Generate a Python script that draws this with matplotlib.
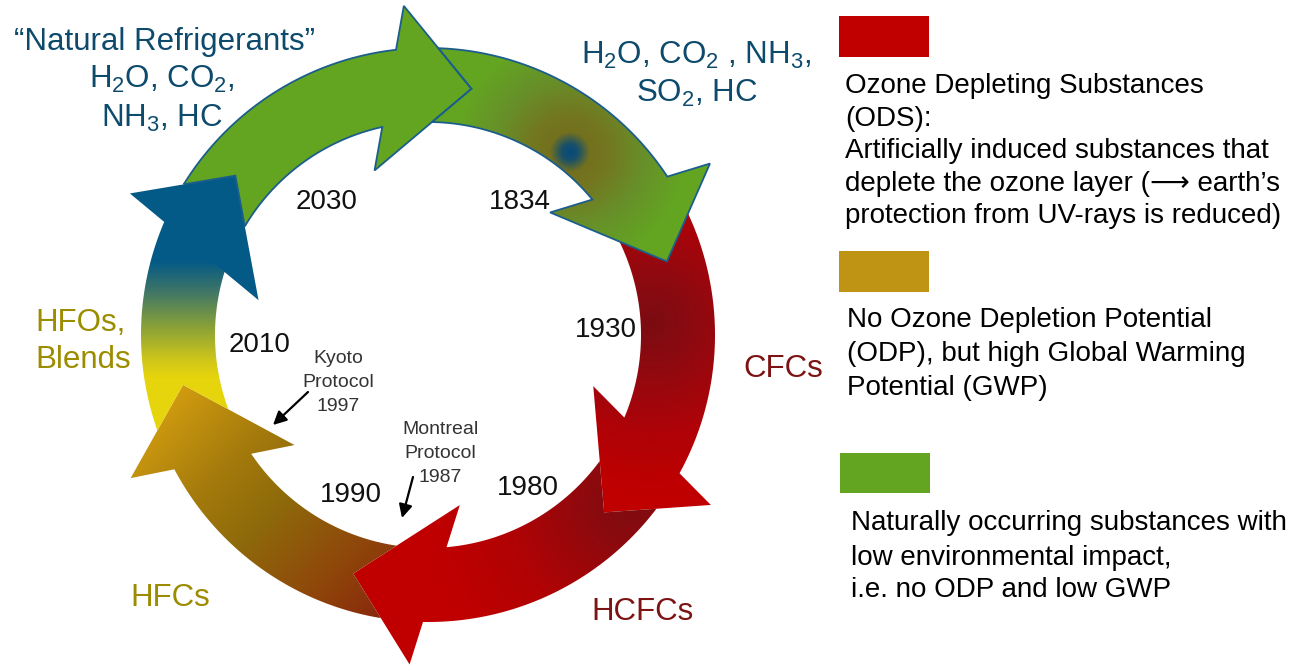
import numpy as np
import matplotlib
matplotlib.use('Agg')
import matplotlib.pyplot as plt
from matplotlib.patches import Polygon, Rectangle
from matplotlib.colors import to_rgb

plt.rcParams['font.family'] = ['Liberation Sans', 'DejaVu Sans']
plt.rcParams['mathtext.fontset'] = 'custom'
plt.rcParams['mathtext.rm'] = 'Liberation Sans'
plt.rcParams['mathtext.it'] = 'Liberation Sans:italic'
plt.rcParams['mathtext.bf'] = 'Liberation Sans:bold'

# ---------------- data ----------------
stage_names = ['Natural A', 'Natural B', 'CFCs', 'HCFCs', 'HFCs', 'HFOs, Blends']
years = ['2030', '1834', '1930', '1980', '1990', '2010']
year_pos = [(327, 209), (520, 209), (606, 337), (528, 495), (351, 502), (260, 352)]

legend_colors = ['#C00000', '#BF9414', '#63A521']
legend_texts = [
    ['Ozone Depleting Substances', '(ODS):', 'Artificially induced substances that',
     'deplete the ozone layer (\u27f6 earth\u2019s', 'protection from UV-rays is reduced)'],
    ['No Ozone Depletion Potential', '(ODP), but high Global Warming', 'Potential (GWP)'],
    ['Naturally occurring substances with', 'low environmental impact,', 'i.e. no ODP and low GWP'],
]

protocols = [('Kyoto\nProtocol\n1997', (338, 363)), ('Montreal\nProtocol\n1987', (440, 434))]

# ---------------- layout ----------------
W, H = 1295, 667
CX, CY = 428.0, 335.0
R_IN, R_OUT = 213.0, 287.0
R_TIP, R_OB, R_IB = 250.0, 330.0, 173.0
OB_OFF, IB_OFF = 14.2, 28.0
tip_angles = [80.0, 17.1, -45.2, -107.4, -168.5, 140.4]

fig = plt.figure(figsize=(W / 100, H / 100), dpi=100)
ax = fig.add_axes([0, 0, 1, 1])
C = np.array([CX, CY])


def pt(r, a):
    t = np.radians(a)
    return np.array([CX + r * np.cos(t), CY - r * np.sin(t)])


def ang(p):
    return np.degrees(np.arctan2(CY - p[1], p[0] - CX))


def head(t):
    return pt(R_TIP, t), pt(R_OB, t + OB_OFF), pt(R_IB, t + IB_OFF)


def seg_circle(p0, p1, r):
    d = p1 - p0
    f = p0 - C
    a = d @ d
    b = 2 * f @ d
    c = f @ f - r * r
    disc = np.sqrt(max(b * b - 4 * a * c, 0))
    for s in ((-b - disc) / (2 * a), (-b + disc) / (2 * a)):
        if -1e-6 <= s <= 1 + 1e-6:
            return p0 + s * d
    return p0 + ((-b - disc) / (2 * a)) * d


def arrow_poly(k):
    tip, ob, ib = head(tip_angles[k])
    ptip, pob, pib = head(tip_angles[k - 1])
    on = seg_circle(ob, ib, R_OUT)
    inn = seg_circle(ob, ib, R_IN)
    ot = seg_circle(pob, ptip, R_OUT)
    it = seg_circle(pib, ptip, R_IN)
    a_on = ang(on)
    a_ot = a_on + ((ang(ot) - a_on) % 360)
    a_in = ang(inn)
    a_it = a_in + ((ang(it) - a_in) % 360)
    outer = [pt(R_OUT, a) for a in np.linspace(a_ot, a_on, 120)]
    inner = [pt(R_IN, a) for a in np.linspace(a_in, a_it, 120)]
    pts = outer + [ob, tip, ib] + inner + [ptip]
    return np.array(pts), (tip, ob, ib)


def ramp(u, stops):
    pos = [s[0] for s in stops]
    cols = np.array([to_rgb(s[1]) for s in stops])
    return np.stack([np.interp(u, pos, cols[:, i]) for i in range(3)], axis=-1)


X, Y = np.meshgrid(np.arange(W) + 0.5, np.arange(H) + 0.5)


def col_A():
    return ramp(np.zeros_like(X), [(0, '#63A521'), (1, '#63A521')])


def col_B():
    d = np.hypot(X - 570, Y - 152)
    return ramp(d, [(0, '#064B7A'), (8, '#17506A'), (20, '#74701E'), (38, '#737720'),
                    (75, '#67902A'), (115, '#63A521')])


def col_C():
    d = np.hypot(X - 652, Y - 322)
    return ramp(d, [(0, '#7A0C12'), (45, '#8E0A10'), (110, '#AE0308'), (170, '#C00000')])


def col_D():
    d = np.hypot(X - 630, Y - 505)
    return ramp(d, [(0, '#7E0C10'), (40, '#8C0A0E'), (120, '#B00305'), (200, '#C00000')])


def col_E():
    p0 = np.array([168.0, 392.0])
    v = np.array([392.0, 612.0]) - p0
    u = ((X - p0[0]) * v[0] + (Y - p0[1]) * v[1]) / (v @ v)
    return ramp(u, [(0, '#D39E10'), (0.3, '#A47A0C'), (0.5, '#8E6A0A'),
                    (0.75, '#8F4A0A'), (1.0, '#8A260C')])


def col_F(hd):
    base = ramp(Y, [(262, '#045A86'), (290, '#3C7468'), (325, '#869F3A'),
                    (360, '#CFC61A'), (378, '#E6D40C')])
    tip, ob, ib = hd
    e = ib - ob
    s_tip = e[0] * (tip[1] - ob[1]) - e[1] * (tip[0] - ob[0])
    s = e[0] * (Y - ob[1]) - e[1] * (X - ob[0])
    mask = (np.sign(s) == np.sign(s_tip))
    base[mask] = to_rgb('#045A86')
    return base


edges = ['#1B5E8C', '#1B5E8C', 'none', 'none', 'none', 'none']
for k in [1, 2, 3, 4, 5, 0]:
    pts, hd = arrow_poly(k)
    if k == 0:
        img = col_A()
    elif k == 1:
        img = col_B()
    elif k == 2:
        img = col_C()
    elif k == 3:
        img = col_D()
    elif k == 4:
        img = col_E()
    else:
        img = col_F(hd)
    clip = Polygon(pts, closed=True, transform=ax.transData)
    im = ax.imshow(img, extent=(0, W, H, 0), origin='upper', interpolation='bilinear', zorder=2)
    im.set_clip_path(clip)
    if edges[k] != 'none':
        ax.add_patch(Polygon(pts, closed=True, facecolor='none', edgecolor=edges[k],
                             lw=1.3, zorder=3, joinstyle='miter'))

# ---------------- labels ----------------
NAT = '#0D4A6C'
OLV = '#9C8C00'
RED = '#7D1414'
fs_lab = 22.5
ax.text(165, 50, '\u201cNatural Refrigerants\u201d', fontsize=fs_lab, color=NAT, ha='center', va='baseline')
ax.text(162, 88, r'H$_2$O, CO$_2$,', fontsize=fs_lab, color=NAT, ha='center', va='baseline')
ax.text(162, 127, r'NH$_3$, HC', fontsize=fs_lab, color=NAT, ha='center', va='baseline')
ax.text(696, 64, r'H$_2$O, CO$_2$ , NH$_3$,', fontsize=fs_lab, color=NAT, ha='center', va='baseline')
ax.text(697, 102, r'SO$_2$, HC', fontsize=fs_lab, color=NAT, ha='center', va='baseline')
ax.text(783, 377, stage_names[2], fontsize=fs_lab, color=RED, ha='center', va='baseline')
ax.text(642, 620, stage_names[3], fontsize=fs_lab, color=RED, ha='center', va='baseline')
ax.text(170, 606, stage_names[4], fontsize=fs_lab, color=OLV, ha='center', va='baseline')
ax.text(35, 331, 'HFOs,', fontsize=fs_lab, color=OLV, ha='left', va='baseline')
ax.text(35, 368, 'Blends', fontsize=fs_lab, color=OLV, ha='left', va='baseline')

for y, (px, py) in zip(years, year_pos):
    ax.text(px, py, y, fontsize=20, color='#111111', ha='center', va='baseline', zorder=5)

for txt, (px, py) in protocols:
    for i, line in enumerate(txt.split('\n')):
        ax.text(px, py + 24 * i, line, fontsize=14, color='#333333', ha='center', va='baseline', zorder=5)

ax.annotate('', xy=(273, 425), xytext=(308, 392),
            arrowprops=dict(arrowstyle='-|>', color='black', lw=1.6, mutation_scale=20,
                            shrinkA=0, shrinkB=0), zorder=6)
ax.annotate('', xy=(402, 518), xytext=(413, 477),
            arrowprops=dict(arrowstyle='-|>', color='black', lw=1.6, mutation_scale=20,
                            shrinkA=0, shrinkB=0), zorder=6)

# ---------------- legend ----------------
rects = [(839, 16, 90, 41), (839, 251, 90, 41), (840, 453, 90, 40)]
text_x = [845, 847, 851]
baselines = [[93, 126, 158, 191, 223], [327, 361, 395], [530, 565, 597]]
for col, (rx, ry, rw, rh), lines, tx, bl in zip(legend_colors, rects, legend_texts, text_x, baselines):
    ax.add_patch(Rectangle((rx, ry), rw, rh, facecolor=col, edgecolor='none', zorder=4))
    for line, yb in zip(lines, bl):
        ax.text(tx, yb, line, fontsize=20, color='black', ha='left', va='baseline')

ax.set_xlim(0, W)
ax.set_ylim(H, 0)
ax.set_aspect('auto')
ax.axis('off')
fig.savefig('out.png', dpi=100)
